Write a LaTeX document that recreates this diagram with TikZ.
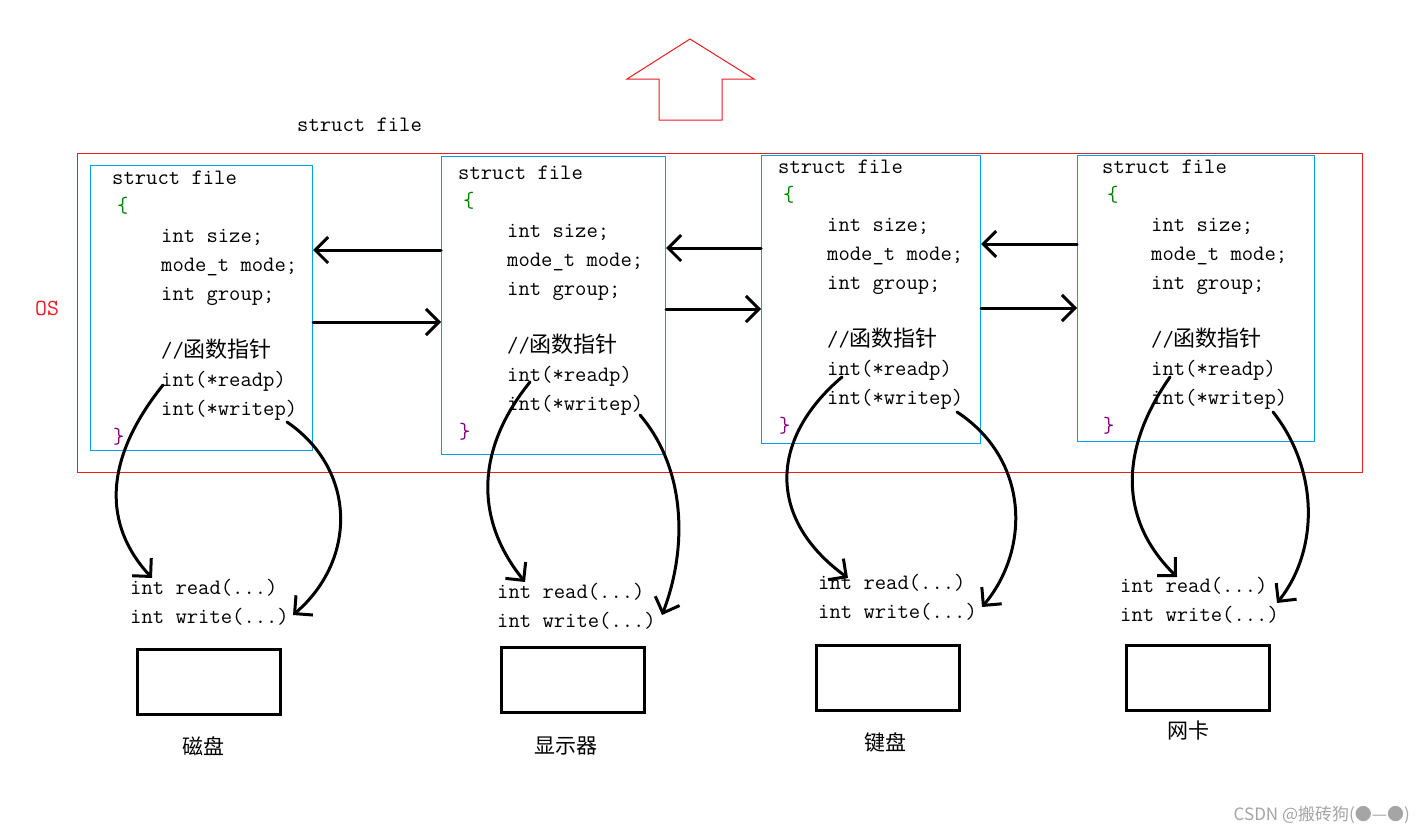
\documentclass[tikz,border=0pt]{standalone}
\usepackage{fontspec}
\newfontfamily\cjk{Noto Sans CJK SC}
\usetikzlibrary{arrows.meta}
\definecolor{osred}{RGB}{237,28,36}
\definecolor{fblue}{RGB}{0,162,232}
\definecolor{bgreen}{RGB}{0,128,0}
\definecolor{bpurple}{RGB}{128,0,128}
\definecolor{wmgray}{RGB}{165,165,165}
\tikzset{
  code/.style={anchor=base west, inner sep=0pt, font=\fontsize{22}{22}\selectfont\ttfamily},
  filebox/.style={draw=fblue, line width=1pt, inner sep=0pt, anchor=north west},
  osbox/.style={draw=osred, line width=1pt, inner sep=0pt, anchor=north west},
  link/.style={line width=3pt, -{Straight Barb[length=13pt,width=26pt]}, line cap=round},
  devbox/.style={draw, line width=3pt, inner sep=0pt, anchor=north west, minimum width=143pt, minimum height=65pt},
  devlabel/.style={inner sep=0pt, font=\fontsize{21}{21}\selectfont\cjk},
}
\newcommand\fileblock[3]{%
  \node[code] (#1-0) at (#2,#3+7) {struct file};
  \node[code,text=bgreen] (#1-1) at (#2+5,#3+35) {\{};
  \node[code] (#1-2) at (#2+49,#3+65) {int size;};
  \node[code] (#1-3) at (#2+49,#3+94) {mode\_t mode;};
  \node[code] (#1-4) at (#2+49,#3+123) {int group;};
  \node[code] (#1-5) at (#2+49,#3+180) {//{\cjk 函数指针}};
  \node[code] (#1-6) at (#2+49,#3+209) {int(*readp)};
  \node[code] (#1-7) at (#2+49,#3+238) {int(*writep)};
  \node[code,text=bpurple] (#1-8) at (#2+1,#3+266) {\}};
}
\begin{document}
\begin{tikzpicture}[x=1pt,y=-1pt]
\fill[white] (0,0) rectangle (1423,835);
\useasboundingbox (0,0) rectangle (1423,835);

% red up arrow
\draw[osred, line width=1pt, line join=miter] (690,39) -- (754,79) -- (722,79) -- (722,120) -- (659,120) -- (659,79) -- (627,79) -- cycle;

% title
\node[code] (title) at (297,131) {struct file};

% OS frame
\node[osbox, minimum width=1285pt, minimum height=319pt] (os) at (77,153) {};
\node[code, text=osred, font=\fontsize{23}{23}\selectfont\ttfamily] (oslabel) at (35,315) {OS};

% file boxes
\node[filebox, minimum width=222pt, minimum height=285pt] (b1) at (90,165) {};
\node[filebox, minimum width=224pt, minimum height=298pt] (b2) at (441,156) {};
\node[filebox, minimum width=219pt, minimum height=288pt] (b3) at (761,155) {};
\node[filebox, minimum width=237pt, minimum height=286pt] (b4) at (1077,155) {};

\fileblock{c1}{112}{177}
\fileblock{c2}{458}{172}
\fileblock{c3}{778}{166}
\fileblock{c4}{1102}{166}

% links between boxes
\draw[link] (b2.west |- 0,250) -- (b1.east |- 0,250);
\draw[link] (b1.east |- 0,322) -- (b2.west |- 0,322);
\draw[link] (b3.west |- 0,248) -- (b2.east |- 0,248);
\draw[link] (b2.east |- 0,309) -- (b3.west |- 0,309);
\draw[link] (b4.west |- 0,244) -- (b3.east |- 0,244);
\draw[link] (b3.east |- 0,308) -- (b4.west |- 0,308);

% device function texts
\node[code] (rd1) at (130,594) {int read(...)};
\node[code] (wr1) at (130,623) {int write(...)};
\node[code] (rd2) at (497,598) {int read(...)};
\node[code] (wr2) at (497,627) {int write(...)};
\node[code] (rd3) at (818,589) {int read(...)};
\node[code] (wr3) at (818,618) {int write(...)};
\node[code] (rd4) at (1120,592) {int read(...)};
\node[code] (wr4) at (1120,621) {int write(...)};

% curve end points
\coordinate (s1r) at (163,385); \coordinate (e1r) at (152,578);
\coordinate (s1w) at (287,422); \coordinate (e1w) at (293,615);
\coordinate (s2r) at (530,382); \coordinate (e2r) at (525,582);
\coordinate (s2w) at (640,415); \coordinate (e2w) at (662,615);
\coordinate (s3r) at (842,377); \coordinate (e3r) at (848,578);
\coordinate (s3w) at (957,412); \coordinate (e3w) at (982,607);
\coordinate (s4r) at (1170,377); \coordinate (e4r) at (1177,577);
\coordinate (s4w) at (1273,412); \coordinate (e4w) at (1277,603);

\draw[link] (s1r) .. controls (103,460) and (103,525) .. (e1r);
\draw[link] (s1w) .. controls (357,470) and (357,560) .. (e1w);
\draw[link] (s2r) .. controls (475,450) and (475,520) .. (e2r);
\draw[link] (s2w) .. controls (687,470) and (687,550) .. (e2w);
\draw[link] (s3r) .. controls (768,440) and (768,520) .. (e3r);
\draw[link] (s3w) .. controls (1030,460) and (1030,550) .. (e3w);
\draw[link] (s4r) .. controls (1119,450) and (1119,520) .. (e4r);
\draw[link] (s4w) .. controls (1319,470) and (1319,550) .. (e4w);

% devices
\node[devbox] (d1) at (136,648) {};
\node[devbox] (d2) at (500,646) {};
\node[devbox] (d3) at (815,644) {};
\node[devbox] (d4) at (1125,644) {};
\node[devlabel] (l1) at (203,746) {磁盘};
\node[devlabel] (l2) at (566,746) {显示器};
\node[devlabel] (l3) at (885,742) {键盘};
\node[devlabel] (l4) at (1188,731) {网卡};

% watermark
\node[inner sep=0pt, anchor=east, text=wmgray, font=\fontsize{17}{17}\selectfont\cjk] (wm) at (1410,815) {CSDN @搬砖狗(●—●)};
\end{tikzpicture}
\end{document}
